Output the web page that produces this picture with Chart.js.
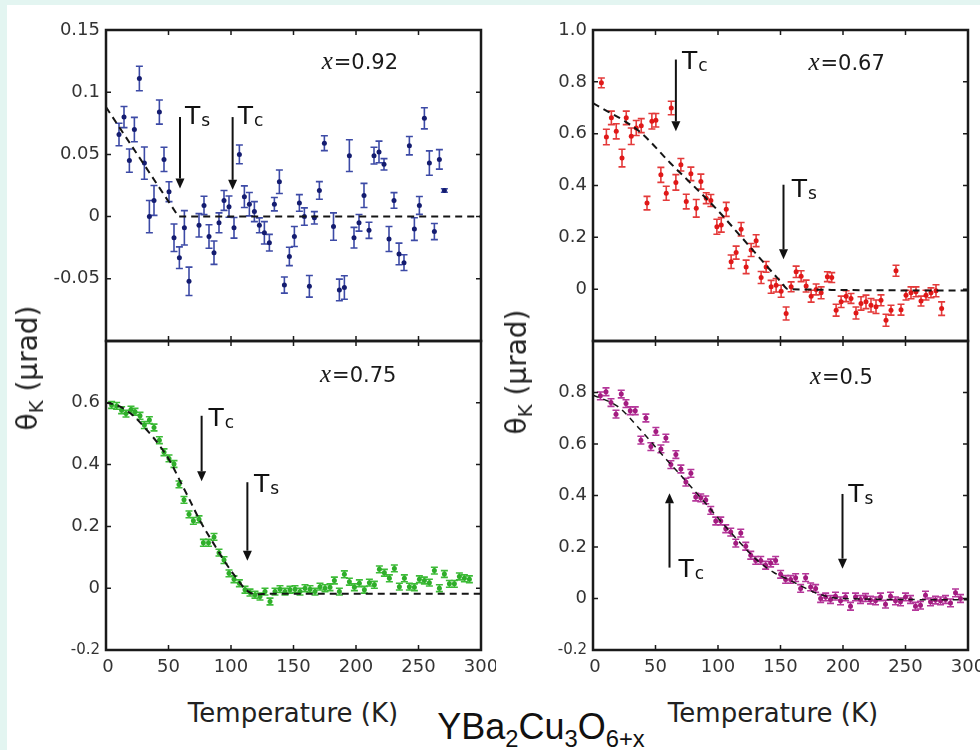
<!DOCTYPE html>
<html><head><meta charset="utf-8">
<script src="https://cdn.jsdelivr.net/npm/chart.js@4.4.1/dist/chart.umd.min.js"></script>
<style>
html,body{margin:0;padding:0;width:980px;height:750px;overflow:hidden;background:#e3f5f1;}
#paper{position:absolute;left:7px;top:5px;width:973px;height:745px;background:#fff;}
canvas{position:absolute;}
.t{position:absolute;white-space:nowrap;color:#222;font-family:'DejaVu Sans',sans-serif;line-height:1;transform:translate(-50%,-50%);}
.t sub{font-size:0.7em;vertical-align:-0.3em;line-height:0;}
.rot{transform:translate(-50%,-50%) rotate(-90deg);}
#formula{font-family:'Liberation Sans',Arial,sans-serif;font-size:36px;color:#111;}
#formula sub{font-size:0.66em;vertical-align:-0.35em;}
</style></head><body>
<div id="paper"></div>
<canvas id="c92"></canvas>
<canvas id="c67"></canvas>
<canvas id="c75"></canvas>
<canvas id="c50"></canvas>
<div class="t rot" id="ylabL" style="left:28px;top:368px;font-size:28px;">θ<sub>K</sub> (µrad)</div>
<div class="t rot" id="ylabR" style="left:517px;top:372px;font-size:28px;">θ<sub>K</sub> (µrad)</div>
<div class="t" id="xlabL" style="left:293px;top:713px;font-size:26px;">Temperature (K)</div>
<div class="t" id="xlabR" style="left:773px;top:713px;font-size:26px;">Temperature (K)</div>
<div class="t" id="formula" style="left:541px;top:727px;">YBa<sub>2</sub>Cu<sub>3</sub>O<sub>6+x</sub></div>
<script>
// ---------- data: x = 0.92 (top left) ----------
const T92 = [10.4,14.4,18.7,22.7,26.7,30.7,34.7,38.4,42.7,46.4,50.4,54.4,58.7,62.7,66.4,74.4,78.4,82.4,86.4,90.4,94.4,98.4,102.4,106.7,110.7,114.7,118.7,122.7,126.7,130.7,134.7,138.7,142.7,146.7,150.7,154.7,158.7,162.7,166.7,170.7,174.7,182,186.7,190.7,194.7,198.4,202.4,206.4,210.4,214.4,218.4,222.4,226.4,230.4,234.4,238.4,242.7,246.7,250.7,254.7,258.7,262.7,266.7,270.7];
const K92 = [0.066,0.080,0.045,0.070,0.111,0.043,0.000,0.013,0.084,0.046,0.020,-0.017,-0.033,-0.009,-0.052,-0.007,0.009,-0.016,-0.029,-0.005,0.013,0.008,-0.009,0.050,0.016,0.010,0.004,-0.007,-0.013,-0.021,0.010,0.028,-0.055,-0.032,-0.016,0.011,0.000,-0.056,-0.001,0.021,0.059,-0.008,-0.059,-0.057,0.049,-0.017,-0.005,0.017,-0.011,0.049,0.052,0.042,-0.018,0.013,-0.030,-0.037,0.057,-0.010,0.009,0.079,0.043,-0.012,0.046,0.021];
const E92 = [0.009,0.0085,0.0094,0.0098,0.0098,0.013,0.013,0.012,0.0097,0.0097,0.008,0.011,0.0087,0.0138,0.0114,0.0094,0.0074,0.0094,0.0094,0.008,0.008,0.0085,0.0083,0.0075,0.0087,0.0094,0.008,0.006,0.009,0.0067,0.0054,0.0094,0.0065,0.0074,0.008,0.0067,0.007,0.0087,0.005,0.0071,0.006,0.011,0.0087,0.0094,0.0128,0.0083,0.0067,0.0097,0.0065,0.0067,0.0087,0.0046,0.01,0.0063,0.0087,0.0063,0.0074,0.0091,0.0072,0.0085,0.0098,0.0065,0.0078,0.0014];
const FIT_T92 = [0, 58, 300];
const FIT_K92 = [0.088, 0, 0];

// ---------- data: x = 0.67 (top right) ----------
const T67 = [6.7,10.7,14.7,18.6,23.2,26.6,30.6,34.6,38.6,43.2,47.1,50.3,54.3,58.6,62.6,66.3,70.3,74.6,78.3,82.6,86.3,90.6,94.3,99.1,102.6,106.6,110.5,114.5,118.5,122.5,126.5,130.5,134.5,138.5,142.5,146.5,150.5,154.5,158.5,162.5,166.5,170.5,174.5,178.5,182.5,187.5,191,194.5,198.5,202.5,206.4,210.4,214.4,218.4,222.4,226.4,230.4,234.4,238.4,242.4,246.4,250.4,254.4,258.4,262.4,266.4,270.4,274.4,278.9];
const K67 = [0.796,0.587,0.661,0.609,0.506,0.661,0.590,0.622,0.631,0.332,0.648,0.652,0.441,0.370,0.699,0.412,0.480,0.338,0.445,0.312,0.415,0.351,0.342,0.241,0.248,0.308,0.106,0.141,0.231,0.086,0.151,0.187,0.045,0.086,0.009,0.015,-0.008,-0.094,0.009,0.067,0.050,0.012,-0.027,-0.001,-0.014,0.048,0.045,-0.081,-0.049,-0.027,-0.036,-0.092,-0.055,-0.049,-0.062,-0.068,-0.043,-0.120,-0.081,0.071,-0.079,-0.023,-0.014,-0.010,-0.046,-0.023,-0.014,-0.006,-0.075];
const E67 = [0.019,0.03,0.026,0.029,0.034,0.026,0.032,0.029,0.027,0.026,0.03,0.026,0.029,0.027,0.026,0.03,0.024,0.028,0.026,0.034,0.029,0.021,0.023,0.029,0.028,0.027,0.026,0.025,0.026,0.026,0.025,0.023,0.023,0.021,0.025,0.026,0.023,0.025,0.019,0.022,0.021,0.023,0.023,0.021,0.023,0.019,0.019,0.023,0.022,0.021,0.019,0.023,0.026,0.026,0.026,0.026,0.021,0.023,0.019,0.021,0.021,0.019,0.023,0.019,0.019,0.019,0.019,0.023,0.026];
const FIT_T67 = [0, 37, 62, 99, 118, 150, 156, 300];
const FIT_K67 = [0.718, 0.609, 0.486, 0.308, 0.205, 0.03, 0.0, -0.005];

// ---------- data: x = 0.75 (bottom left) ----------
const T75 = [4.5,8.5,12.5,16,20,23.2,27.2,30.7,34.7,38.4,42.7,46.4,50.4,54.4,58.4,62.4,66.4,69.9,74.4,77.9,82,86.4,90.4,94.4,98.4,102.4,106.7,111.2,115.2,119.2,123.2,127.2,131.2,135.2,139.2,143.2,147.2,151.2,155.2,159.2,163.2,167.2,171.2,175.2,179.2,182.7,186.7,190.7,194.7,198.7,202.7,206.7,210.7,214.7,218.7,222.7,226.7,230.7,234.7,238.7,242.7,246.7,250.7,254.7,258.7,262.7,266.7,270.7,274.7,278.7,282.7,286.7,290.7];
const K75 = [0.593,0.590,0.576,0.565,0.578,0.571,0.558,0.528,0.544,0.520,0.479,0.440,0.420,0.402,0.336,0.286,0.239,0.218,0.223,0.147,0.147,0.166,0.115,0.091,0.048,0.029,0.016,-0.005,-0.014,-0.021,-0.027,-0.011,-0.043,-0.011,-0.003,-0.011,-0.005,-0.003,-0.011,0.000,-0.003,-0.011,0.005,0.000,0.003,0.025,-0.011,0.045,0.021,0.003,0.016,-0.005,0.018,0.011,0.061,0.050,0.032,0.064,0.005,0.032,0.005,0.003,0.029,0.025,0.018,0.057,0.000,0.046,0.014,0.014,0.038,0.032,0.029];
const E75 = 0.011;
const FIT_T75 = [0, 10, 22, 32, 43, 52, 59, 67, 75, 86, 96, 104, 112, 120, 130, 300];
const FIT_K75 = [0.600, 0.590, 0.558, 0.515, 0.461, 0.405, 0.349, 0.285, 0.220, 0.145, 0.080, 0.035, -0.005, -0.020, -0.018, -0.018];

// ---------- data: x = 0.5 (bottom right) ----------
const T50 = [5.9,10.4,14.4,18.4,22.6,26.4,29.8,33.8,38.3,42.3,46.3,50.3,54.3,58.3,62.3,66.3,70.3,74.3,78.3,82.2,86.2,90.2,94.2,98.2,102.2,106.2,110.2,114.2,118.2,122.2,126.2,130.2,134.2,138.1,142.1,146.1,150.1,154.1,158.1,162.1,166.1,170.1,174.1,178.1,182.1,186.1,190,194,198,202,206,210,214,218,222,226,230,234,238,242,246,250,254,258,262,266,270,274,278,282,286,290,294];
const K50 = [0.787,0.803,0.761,0.716,0.794,0.757,0.729,0.729,0.615,0.701,0.590,0.649,0.581,0.623,0.520,0.559,0.503,0.452,0.486,0.394,0.391,0.383,0.342,0.301,0.301,0.271,0.258,0.215,0.254,0.203,0.168,0.148,0.148,0.129,0.138,0.148,0.094,0.074,0.074,0.081,0.039,0.081,0.045,0.039,0.000,0.006,-0.004,0.009,-0.009,0.006,-0.030,0.006,-0.004,0.004,-0.006,-0.009,0.006,-0.022,0.009,-0.009,-0.013,0.006,-0.004,-0.030,-0.026,0.013,-0.013,-0.006,-0.009,-0.004,-0.017,0.022,0.000];
const E50 = 0.015;
const FIT_T50 = [0, 20, 38, 55, 74, 90, 104, 118, 131, 145, 158, 170, 179, 190, 198, 300];
const FIT_K50 = [0.79, 0.745, 0.655, 0.56, 0.458, 0.37, 0.29, 0.215, 0.15, 0.1, 0.07, 0.04, 0.02, 0.005, 0, -0.005];

// ---------- tick labels ----------
const X_TICKS = [0, 50, 100, 150, 200, 250, 300];
const X_LABELS = ['0', '50', '100', '150', '200', '250', '300'];
const Y_TICKS_92 = [0.15, 0.1, 0.05, 0, -0.05];
const Y_LABELS_92 = ['0.15', '0.1', '0.05', '0', '-0.05'];
const Y_TICKS_67 = [1.0, 0.8, 0.6, 0.4, 0.2, 0];
const Y_LABELS_67 = ['1.0', '0.8', '0.6', '0.4', '0.2', '0'];
const Y_TICKS_75 = [0.6, 0.4, 0.2, 0, -0.2];
const Y_LABELS_75 = ['0.6', '0.4', '0.2', '0', '-0.2'];
const Y_TICKS_50 = [0.8, 0.6, 0.4, 0.2, 0, -0.2];
const Y_LABELS_50 = ['0.8', '0.6', '0.4', '0.2', '0', '-0.2'];

// ---------- annotations (data units) ----------
const NOTE_92 = {x: 172.5, y: 0.119, text: '=0.92'};
const NOTE_67 = {x: 172.3, y: 0.845, text: '=0.67'};
const NOTE_75 = {x: 171.2, y: 0.668, text: '=0.75'};
const NOTE_50 = {x: 173.5, y: 0.832, text: '=0.5'};
const ARROWS_92 = [
  {x: 59.2, from: 0.080, to: 0.0226, sub: 's', lx: 63.2, ly: 0.0742},
  {x: 101.3, from: 0.080, to: 0.0215, sub: 'c', lx: 105.3, ly: 0.0742}];
const ARROWS_67 = [
  {x: 66.3, from: 0.886, to: 0.609, sub: 'c', lx: 71.1, ly: 0.848},
  {x: 152.4, from: 0.403, to: 0.115, sub: 's', lx: 159, ly: 0.357}];
const ARROWS_75 = [
  {x: 76.5, from: 0.558, to: 0.346, sub: 'c', lx: 81.9, ly: 0.525},
  {x: 113.1, from: 0.343, to: 0.089, sub: 's', lx: 118.4, ly: 0.311}];
const ARROWS_50 = [
  {x: 61.2, from: 0.120, to: 0.409, sub: 'c', lx: 68.4, ly: 0.084},
  {x: 199.6, from: 0.406, to: 0.116, sub: 's', lx: 204.2, ly: 0.374}];

// ---------- helpers ----------
const pts = (xs, ys) => xs.map((x, i) => ({x: x, y: ys[i]}));

const panelPlugin = {
  id: 'panel',
  beforeDatasetsDraw(chart) {
    const xs = chart.scales.x, ys = chart.scales.y, ctx = chart.ctx;
    chart.data.datasets.forEach(ds => {
      if (ds.errors === undefined) return;
      ctx.save();
      ctx.strokeStyle = ds.errorColor;
      ctx.lineWidth = 1.6;
      ds.data.forEach((p, j) => {
        const e = Array.isArray(ds.errors) ? ds.errors[j] : ds.errors;
        const x = xs.getPixelForValue(p.x);
        const y1 = ys.getPixelForValue(p.y - e), y2 = ys.getPixelForValue(p.y + e);
        ctx.beginPath();
        ctx.moveTo(x, y1); ctx.lineTo(x, y2);
        ctx.moveTo(x - 3.5, y1); ctx.lineTo(x + 3.5, y1);
        ctx.moveTo(x - 3.5, y2); ctx.lineTo(x + 3.5, y2);
        ctx.stroke();
      });
      ctx.restore();
    });
  },
  afterDraw(chart, args, o) {
    const xs = chart.scales.x, ys = chart.scales.y, ctx = chart.ctx, a = chart.chartArea;
    ctx.save();
    // inward ticks
    ctx.strokeStyle = '#1a1a1a';
    ctx.lineWidth = 1.5;
    ctx.beginPath();
    X_TICKS.forEach(v => {
      const x = xs.getPixelForValue(v);
      ctx.moveTo(x, a.top); ctx.lineTo(x, a.top + 5);
      ctx.moveTo(x, a.bottom); ctx.lineTo(x, a.bottom - 5);
    });
    o.yTicks.forEach(v => {
      const y = ys.getPixelForValue(v);
      ctx.moveTo(a.left, y); ctx.lineTo(a.left + 5, y);
      ctx.moveTo(a.right, y); ctx.lineTo(a.right - 5, y);
    });
    ctx.stroke();
    // frame
    ctx.lineWidth = 2.5;
    ctx.strokeRect(a.left, a.top, a.right - a.left, a.bottom - a.top);
    // x tick labels
    if (o.xLabels) {
      ctx.fillStyle = '#333';
      ctx.font = '18px "DejaVu Sans", sans-serif';
      ctx.textAlign = 'center';
      ctx.textBaseline = 'top';
      X_TICKS.forEach((v, i) => ctx.fillText(X_LABELS[i], xs.getPixelForValue(v) + (i === 0 ? 2 : 0), a.bottom + 8));
    }
    // note "x=..."
    const n = o.note;
    ctx.fillStyle = '#1a1a1a';
    ctx.textAlign = 'left';
    ctx.textBaseline = 'alphabetic';
    let nx = xs.getPixelForValue(n.x), ny = ys.getPixelForValue(n.y);
    ctx.font = 'italic 25px "Liberation Serif", "DejaVu Serif", serif';
    ctx.fillText('x', nx, ny);
    nx += ctx.measureText('x').width + 1;
    ctx.font = '21px "DejaVu Sans", sans-serif';
    ctx.fillText(n.text, nx, ny);
    // arrows + labels
    o.arrows.forEach(ar => {
      const x = xs.getPixelForValue(ar.x), y0 = ys.getPixelForValue(ar.from), y1 = ys.getPixelForValue(ar.to);
      const dir = Math.sign(y1 - y0), hl = 10, hw = 4.5;
      ctx.strokeStyle = '#111'; ctx.fillStyle = '#111';
      ctx.lineWidth = 2;
      ctx.beginPath(); ctx.moveTo(x, y0); ctx.lineTo(x, y1 - dir * hl); ctx.stroke();
      ctx.beginPath(); ctx.moveTo(x, y1); ctx.lineTo(x - hw, y1 - dir * hl); ctx.lineTo(x + hw, y1 - dir * hl); ctx.closePath(); ctx.fill();
      const lx = xs.getPixelForValue(ar.lx), ly = ys.getPixelForValue(ar.ly);
      ctx.font = '25px "DejaVu Sans", sans-serif';
      ctx.fillText('T', lx, ly);
      const tw = ctx.measureText('T').width;
      ctx.font = '17px "DejaVu Sans", sans-serif';
      ctx.fillText(ar.sub, lx + tw + 1, ly + 2);
    });
    ctx.restore();
  }
};

function makePanel(id, geo, cfg) {
  const cv = document.getElementById(id);
  const PL = 75, PT = 30, PR = 15, PB = 30;
  cv.width = geo.w + PL + PR;
  cv.height = geo.h + PT + PB;
  cv.style.left = (geo.left - PL) + 'px';
  cv.style.top = (geo.top - PT) + 'px';
  new Chart(cv, {
    type: 'scatter',
    data: {datasets: [
      {type: 'line', data: pts(cfg.fitT, cfg.fitK), borderColor: '#151515', borderWidth: cfg.fitWidth, borderDash: cfg.fitDash,
       pointRadius: 0, fill: false, tension: 0, cubicInterpolationMode: cfg.monotone ? 'monotone' : 'default', order: 0},
      {type: 'scatter', data: pts(cfg.T, cfg.K), errors: cfg.E, errorColor: cfg.barColor,
       pointRadius: 2.5, pointBackgroundColor: cfg.dotColor, pointBorderWidth: 0, order: 1}
    ]},
    options: {
      responsive: false, animation: false, events: [],
      layout: {padding: {left: 0, top: PT, right: PR, bottom: PB}},
      plugins: {legend: {display: false}, tooltip: {enabled: false},
        panel: {yTicks: cfg.yTicks, xLabels: cfg.xLabels, note: cfg.note, arrows: cfg.arrows}},
      scales: {
        x: {type: 'linear', min: 0, max: 300, display: false},
        y: {type: 'linear', min: cfg.ymin, max: cfg.ymax,
          afterFit: s => { s.width = PL; },
          afterBuildTicks: s => { s.ticks = cfg.yTicks.map(v => ({value: v})); },
          grid: {display: false, drawTicks: false}, border: {display: false},
          ticks: {padding: 6, color: '#333',
            font: c => ({family: '"DejaVu Sans", sans-serif', size: (c.tick && c.tick.value === -0.2) ? 15 : 18}),
            callback: (v, i) => cfg.yLabels[i]}
        }
      }
    },
    plugins: [panelPlugin]
  });
}

makePanel('c92', {left: 106, top: 30, w: 375, h: 311}, {
  T: T92, K: K92, E: E92, fitT: FIT_T92, fitK: FIT_K92, ymin: -0.1, ymax: 0.15,
  yTicks: Y_TICKS_92, yLabels: Y_LABELS_92, dotColor: '#141c70', barColor: '#3c4aa6',
  fitWidth: 2, fitDash: [7, 5], monotone: false, xLabels: false, note: NOTE_92, arrows: ARROWS_92});
makePanel('c67', {left: 593, top: 30, w: 375, h: 311}, {
  T: T67, K: K67, E: E67, fitT: FIT_T67, fitK: FIT_K67, ymin: -0.2, ymax: 1.0,
  yTicks: Y_TICKS_67, yLabels: Y_LABELS_67, dotColor: '#e01818', barColor: '#e43a3a',
  fitWidth: 2, fitDash: [7, 5], monotone: true, xLabels: false, note: NOTE_67, arrows: ARROWS_67});
makePanel('c75', {left: 106, top: 341, w: 375, h: 309}, {
  T: T75, K: K75, E: E75, fitT: FIT_T75, fitK: FIT_K75, ymin: -0.2, ymax: 0.8,
  yTicks: Y_TICKS_75, yLabels: Y_LABELS_75, dotColor: '#2fae2a', barColor: '#3cbc36',
  fitWidth: 2, fitDash: [7, 5], monotone: true, xLabels: true, note: NOTE_75, arrows: ARROWS_75});
makePanel('c50', {left: 593, top: 341, w: 375, h: 309}, {
  T: T50, K: K50, E: E50, fitT: FIT_T50, fitK: FIT_K50, ymin: -0.2, ymax: 1.0,
  yTicks: Y_TICKS_50, yLabels: Y_LABELS_50, dotColor: '#a31c80', barColor: '#b5379a',
  fitWidth: 1.5, fitDash: [6, 5], monotone: true, xLabels: true, note: NOTE_50, arrows: ARROWS_50});
</script>
</body></html>
